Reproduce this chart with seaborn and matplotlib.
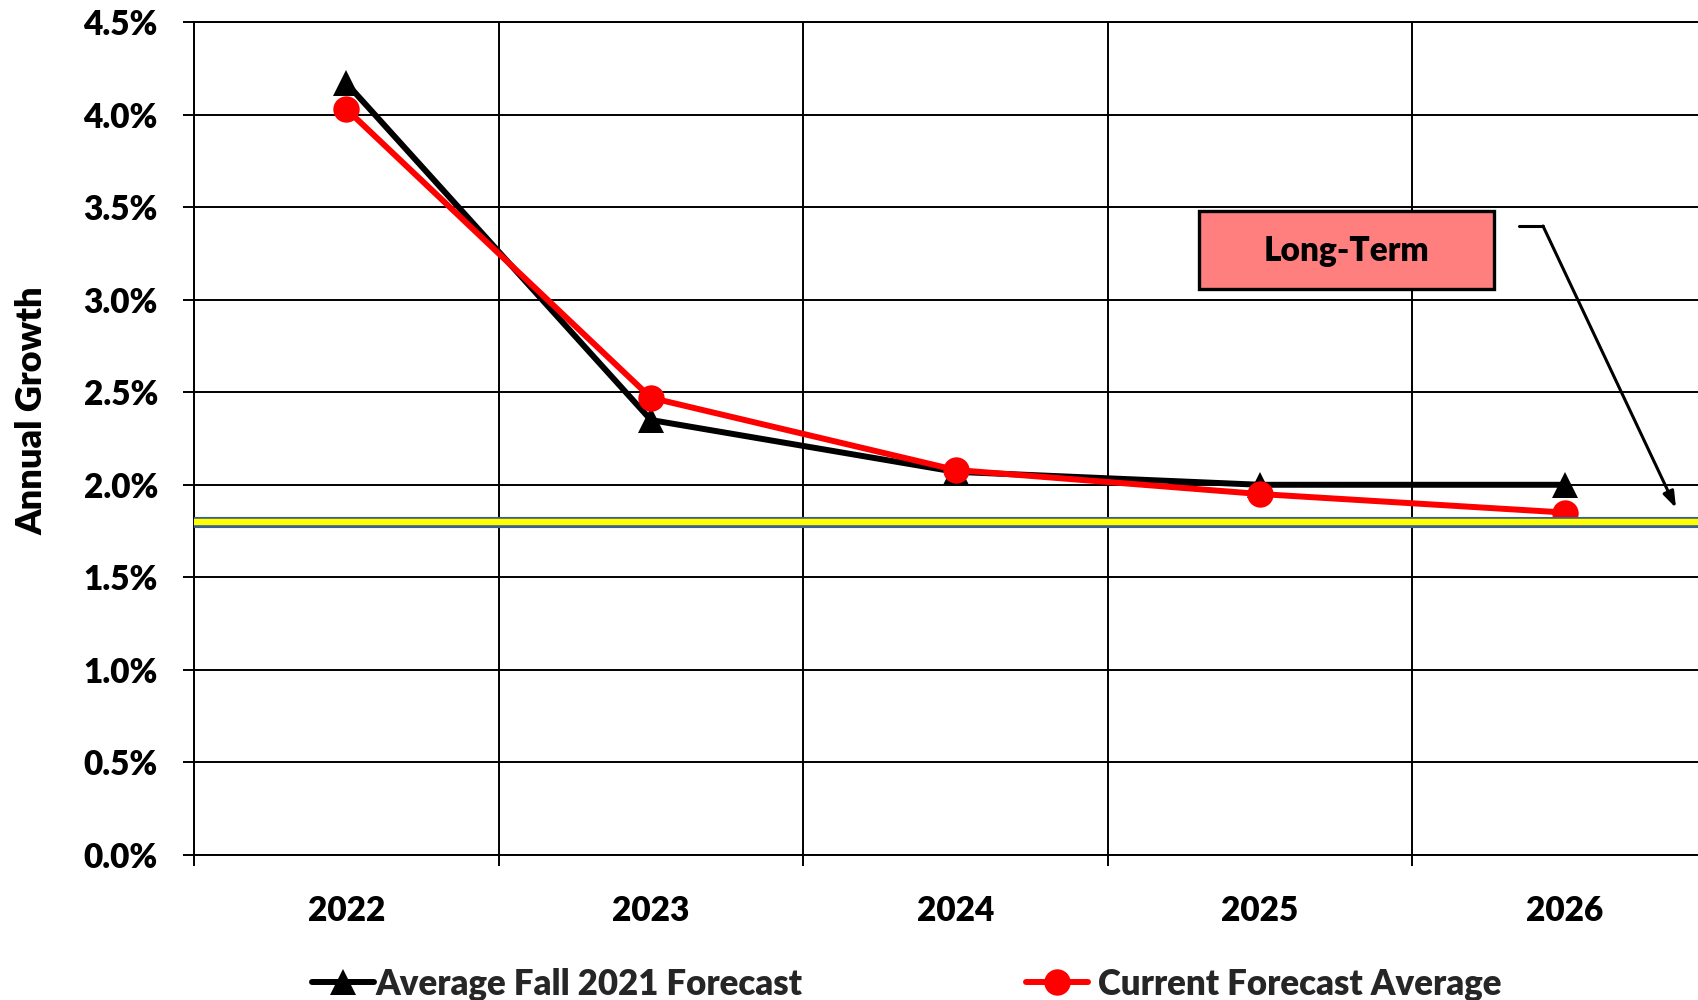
import matplotlib
matplotlib.use("Agg")
import numpy as np
import pandas as pd
import matplotlib.pyplot as plt
import seaborn as sns
from matplotlib.patches import Rectangle
from matplotlib.lines import Line2D
from matplotlib.ticker import FuncFormatter

# ---- data (annual growth, %) ----
years = [2022, 2023, 2024, 2025, 2026]
fall_2021_forecast = [4.17, 2.35, 2.07, 2.00, 2.00]
current_forecast = [4.03, 2.47, 2.08, 1.95, 1.85]
long_term_growth = 1.8
y_ticks = [0.0, 0.5, 1.0, 1.5, 2.0, 2.5, 3.0, 3.5, 4.0, 4.5]
series_names = ["Average Fall 2021 Forecast", "Current Forecast Average"]
series_colors = ["#000000", "#FF0000"]
series_markers = ["^", "o"]

df = pd.DataFrame({
    "year": years * 2,
    "growth": fall_2021_forecast + current_forecast,
    "series": [series_names[0]] * len(years) + [series_names[1]] * len(years),
})

sns.set_theme(style="white")
plt.rcParams["font.family"] = ["Lato", "DejaVu Sans"]
WEIGHT = "heavy"
plt.rcParams["font.weight"] = WEIGHT

W, H = 1698, 1000
fig = plt.figure(figsize=(W / 100, H / 100), dpi=100)
fig.patch.set_facecolor("white")
ax = fig.add_axes([194 / W, 1 - 855 / H, 1523 / W, (855 - 22) / H])

sns.lineplot(data=df, x="year", y="growth", hue="series", style="series",
             palette=series_colors, markers=series_markers, dashes=False,
             linewidth=4.3, markersize=19, markeredgewidth=0,
             legend=False, ax=ax)

# long-term reference line: blue edged yellow band
ax.axhline(long_term_growth, color="#3B5F8F", lw=8.0, zorder=5)
ax.axhline(long_term_growth, color="#FFFF00", lw=4.6, zorder=6)

ax.set_xlim(years[0] - 0.5, years[-1] + 0.5)
ax.set_ylim(y_ticks[0], y_ticks[-1])
ax.set_xticks(years)
ax.set_xticklabels([str(y) for y in years])
ax.set_xticks([y - 0.5 for y in years] + [years[-1] + 0.5], minor=True)
ax.set_yticks(y_ticks)
ax.yaxis.set_major_formatter(FuncFormatter(lambda v, _: f"{v:.1f}%"))

ax.set_axisbelow(True)
ax.yaxis.grid(True, which="major", color="black", lw=1.4)
ax.xaxis.grid(True, which="minor", color="black", lw=1.4)
ax.xaxis.grid(False, which="major")

for side in ["left", "bottom", "top"]:
    ax.spines[side].set_visible(True)
    ax.spines[side].set_color("black")
    ax.spines[side].set_linewidth(1.4)
ax.spines["right"].set_visible(False)

ax.tick_params(axis="x", which="major", bottom=True, length=0, pad=29,
               labelsize=24, labelcolor="black")
ax.tick_params(axis="x", which="minor", bottom=True, length=8, width=1.4,
               color="black", direction="out")
ax.tick_params(axis="y", which="major", left=True, length=8, width=1.4,
               color="black", direction="out", pad=18, labelsize=24,
               labelcolor="black")
for lab in ax.get_xticklabels() + ax.get_yticklabels():
    lab.set_fontweight(WEIGHT)

ax.set_xlabel("")
ax.set_ylabel("Annual Growth", fontsize=26, fontweight=WEIGHT, color="black")
ax.yaxis.set_label_coords(-0.0955, 0.533)

# "Long-Term" callout box with arrow pointing to the reference line
fig.add_artist(Rectangle((1199 / W, 1 - 289 / H), (1494 - 1199) / W, (289 - 211) / H,
                         transform=fig.transFigure, facecolor="#FF7F7F",
                         edgecolor="black", lw=2.4, zorder=10))
fig.text(1346.5 / W, 1 - 251 / H, "Long-Term", ha="center", va="center",
         fontsize=24, fontweight=WEIGHT, color="black", zorder=11)
fig.add_artist(Line2D([1519 / W, 1543 / W], [1 - 226 / H, 1 - 226 / H],
                      transform=fig.transFigure, color="black", lw=2.2))
ax.annotate("", xy=(1676, H - 508), xycoords="figure pixels",
            xytext=(1543, H - 226), textcoords="figure pixels",
            arrowprops=dict(arrowstyle="-|>,head_length=0.8,head_width=0.28",
                            color="black", lw=2.2, shrinkA=0, shrinkB=0),
            annotation_clip=False)

# legend entries along the bottom edge
em_px = 25 * 100 / 72
for i, (x0, pad) in enumerate([(312, 0.05), (1026, 0.3)]):
    handle = Line2D([], [], color=series_colors[i], lw=4.3,
                    marker=series_markers[i], markersize=19, markeredgewidth=0)
    fig.legend(handles=[handle], labels=[series_names[i]], loc="center left",
               bbox_to_anchor=(x0 / W, 1 - 984 / H), frameon=False,
               prop={"size": 25, "weight": WEIGHT},
               handlelength=62 / em_px, handletextpad=pad,
               borderpad=0, borderaxespad=0)

fig.savefig("out.png", dpi=100, facecolor="white")
